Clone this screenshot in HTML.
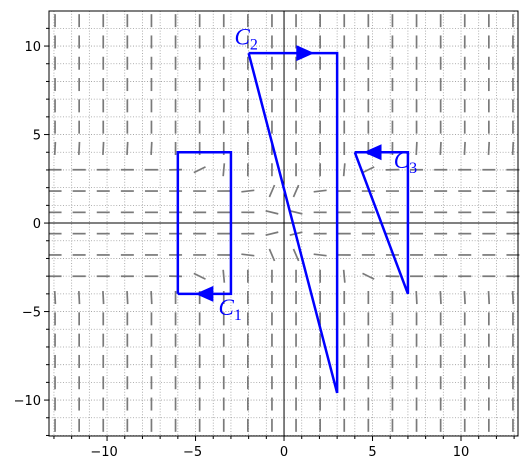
<!DOCTYPE html>
<html><head><meta charset="utf-8"><style>
html,body{margin:0;padding:0;background:#fff;}
svg text{font-family:"DejaVu Sans","Liberation Sans",sans-serif;font-size:13px;}
</style></head><body>
<svg id="chart" width="528" height="470" xmlns="http://www.w3.org/2000/svg">
<g id="grid"></g>
<g id="field"></g>
<g id="axes"></g>
<g id="curves"></g>
</svg>
<script>
const xTicks = [-10, -5, 0, 5, 10];
const yTicks = [-10, -5, 0, 5, 10];
const c1 = [[-6,-4],[-3,-4],[-3,4],[-6,4],[-6,-4]];
const c2 = [[-2,9.6],[3,9.6],[3,-9.6],[-2,9.6]];
const c3 = [[4,4],[7,4],[7,-4],[4,4]];
const arrows = [[-4.5,-4,-1],[1.2,9.6,1],[5.0,4,-1]];
const labels = [["C","1",-3.7,-5.2],["C","2",-2.8,10.1],["C","3",6.2,3.1]];

const X0=-13.28,X1=13.22,Y0=-12.03,Y1=11.98,L=49,R=518,T=11,B=436;
const sx=v=>L+(v-X0)/(X1-X0)*(R-L);
const sy=v=>B-(v-Y0)/(Y1-Y0)*(B-T);
const NS="http://www.w3.org/2000/svg";
function mk(tag,attrs,parent){const e=document.createElementNS(NS,tag);for(const k in attrs)e.setAttribute(k,attrs[k]);parent.appendChild(e);return e;}
const grid=document.getElementById('grid'),field=document.getElementById('field'),axes=document.getElementById('axes'),curves=document.getElementById('curves');

for(let i=-13;i<=13;i++){
  const g1=mk('line',{x1:sx(i),x2:sx(i),y1:T,y2:B,stroke:'#999','stroke-width':0.8,'stroke-dasharray':'1,1.8'},grid);
  
  
}
for(let j=-12;j<=11;j++){
  const g2=mk('line',{x1:L,x2:R,y1:sy(j),y2:sy(j),stroke:'#999','stroke-width':0.8,'stroke-dasharray':'1,1.8'},grid);
  
  
}
// slope field
for(let a=0;a<20;a++){for(let b=0;b<20;b++){
  const px=284+24.1*(a-9.5), py=223+21.3*(b-9.5);
  const x=(px-284)/17.7, y=-(py-223)/17.7;
  const c=Math.min(19,2+2.3*Math.abs(x));
  const s=y*(y*y-1)*Math.exp(Math.min(y*y-c,30)) - 0.6*y*Math.exp(-x*x);
  const ang=Math.atan(s), h=6.5;
  const dx=h*Math.cos(ang), dy=h*Math.sin(ang);
  const d=mk('line',{x1:px-dx,y1:py+dy,x2:px+dx,y2:py-dy,stroke:'#7a7a7a','stroke-width':1.7},field);
  
  
}}
// axes lines
mk('line',{x1:L,x2:R,y1:sy(0),y2:sy(0),stroke:'#000','stroke-width':1},axes);
mk('line',{x1:sx(0),x2:sx(0),y1:T,y2:B,stroke:'#000','stroke-width':1},axes);
const fr=mk('rect',{x:L,y:T,width:R-L,height:B-T,fill:'none',stroke:'#000','stroke-width':1},axes);


for(let i=-13;i<=13;i++){const maj=i%5===0;mk('line',{x1:sx(i),x2:sx(i),y1:B,y2:B+(maj?5:3),stroke:'#000'},axes);}
for(let j=-12;j<=11;j++){const maj=j%5===0;mk('line',{x1:L,x2:L-(maj?5:3),y1:sy(j),y2:sy(j),stroke:'#000'},axes);}
xTicks.forEach(v=>{const t=mk('text',{x:sx(v)+(v<0?-3:0),y:B+20,'text-anchor':'middle',fill:'#000'},axes);t.textContent=(v<0?'\u2212'+(-v):v);
  
  });
yTicks.forEach(v=>{const t=mk('text',{x:L-8,y:sy(v)+5,'text-anchor':'end',fill:'#000'},axes);t.textContent=(v<0?'\u2212'+(-v):v);
  
  });
// curves
[c1,c2,c3].forEach((c,i)=>{const p=mk('polyline',{points:c.map(q=>sx(q[0])+','+sy(q[1])).join(' '),fill:'none',stroke:'#0000ff','stroke-width':2.5},curves);
  
  });
arrows.forEach(a=>{const x=sx(a[0]),y=sy(a[1]),d=a[2];
  const p=mk('polygon',{points:`${x+9*d},${y} ${x-9*d},${y-8} ${x-9*d},${y+8}`,fill:'#0000ff'},curves);
  
  });
labels.forEach(l=>{const t=mk('text',{x:sx(l[2]),y:sy(l[3]),fill:'#0000ff',style:'font-family:"Liberation Serif",serif;font-style:italic;font-size:23px'},curves);
  t.textContent=l[0];
  const s=mk('tspan',{dy:5,style:'font-style:normal;font-size:16px'},t);s.textContent=l[1];
  
  });
</script>
</body></html>
